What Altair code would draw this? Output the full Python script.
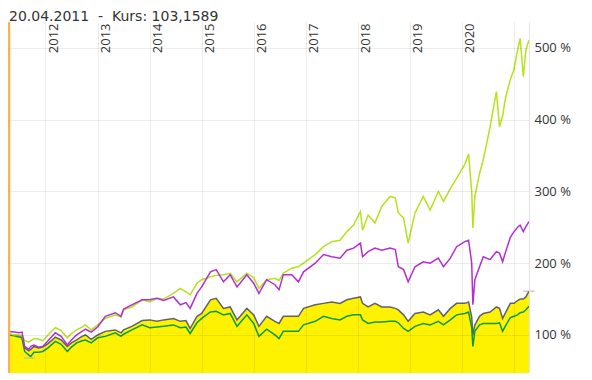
import altair as alt
import pandas as pd

# ---- data (percent of start value) ----
dates = [
    "2011-04-20", "2011-05-26", "2011-07-01", "2011-07-20", "2011-08-08", "2011-09-06",
    "2011-09-20", "2011-10-12", "2011-11-14", "2011-12-13", "2012-01-19", "2012-03-10",
    "2012-04-20", "2012-06-02", "2012-07-01", "2012-08-07", "2012-09-13", "2012-10-08",
    "2012-11-17", "2013-01-01", "2013-02-24", "2013-05-05", "2013-06-14", "2013-07-02",
    "2013-08-29", "2013-11-10", "2014-01-01", "2014-02-21", "2014-04-09", "2014-06-17",
    "2014-08-04", "2014-09-13", "2014-10-12", "2014-11-29", "2015-01-01", "2015-03-04",
    "2015-04-13", "2015-06-03", "2015-07-20", "2015-09-06", "2015-11-14", "2016-01-01",
    "2016-02-07", "2016-04-01", "2016-05-29", "2016-06-27", "2016-07-27", "2016-09-24",
    "2016-11-10", "2016-12-16", "2017-03-08", "2017-05-05", "2017-07-02", "2017-08-29",
    "2017-10-16", "2017-12-02", "2018-01-19", "2018-02-03", "2018-03-14", "2018-05-01",
    "2018-06-18", "2018-08-15", "2018-09-21", "2018-10-12", "2018-11-18", "2018-12-20",
    "2019-02-06", "2019-04-05", "2019-05-23", "2019-07-20", "2019-08-25", "2019-10-12",
    "2019-11-25", "2020-01-22", "2020-02-17", "2020-03-10", "2020-03-18", "2020-04-01",
    "2020-05-04", "2020-05-30", "2020-07-17", "2020-08-30", "2020-09-21", "2020-10-13",
    "2020-10-31", "2020-12-06", "2021-01-01", "2021-01-26", "2021-02-13", "2021-03-07",
    "2021-03-25", "2021-04-16",
]
lime = [
    102, 100, 100, 99, 92, 90, 92, 95, 94, 92, 100, 110,
    106, 96, 102, 107, 111, 114, 107, 114, 123, 128, 125, 135,
    139, 149, 146, 151, 150, 158, 165, 160, 156, 172, 177, 181,
    183, 184, 186, 174, 186, 180, 165, 177, 179, 176, 186, 193,
    195, 200, 212, 223, 230, 232, 244, 253, 272, 246, 267, 256,
    279, 293, 291, 270, 263, 228, 270, 293, 274, 300, 286, 304,
    318, 338, 352, 300, 249, 293, 325, 344, 390, 439, 390, 405,
    428, 456, 470, 497, 513, 460, 497, 511,
]
magenta = [
    105, 104, 103, 104, 84, 80, 84, 86, 83, 84, 92, 103,
    98, 86, 93, 100, 105, 108, 104, 111, 126, 131, 126, 136,
    142, 149, 149, 151, 148, 153, 142, 145, 137, 158, 167, 188,
    191, 174, 184, 167, 184, 172, 158, 177, 170, 163, 184, 184,
    174, 188, 200, 212, 209, 207, 218, 221, 228, 209, 216, 221,
    218, 221, 219, 195, 191, 174, 195, 202, 200, 207, 195, 207,
    223, 230, 232, 200, 142, 177, 195, 209, 205, 216, 214, 202,
    214, 236, 244, 250, 253, 244, 251, 258,
]
grey = [
    101, 100, 99, 98, 82, 78, 80, 84, 82, 83, 88, 97,
    93, 84, 89, 93, 98, 100, 94, 100, 105, 107, 103, 107,
    112, 120, 121, 119, 121, 123, 119, 120, 109, 126, 130, 149,
    151, 137, 139, 121, 137, 128, 112, 126, 119, 116, 126, 126,
    126, 137, 142, 144, 146, 144, 149, 151, 153, 144, 139, 144,
    139, 139, 137, 135, 128, 119, 130, 132, 128, 135, 126, 137,
    144, 144, 146, 125, 100, 114, 126, 130, 132, 139, 137, 123,
    130, 144, 144, 148, 150, 150, 153, 161,
]
green = [
    100, 99, 97, 96, 77, 72, 70, 76, 76, 77, 82, 91,
    87, 77, 83, 89, 92, 93, 89, 96, 98, 103, 98, 101,
    107, 114, 110, 111, 112, 114, 110, 111, 102, 117, 123, 132,
    133, 128, 130, 112, 128, 116, 98, 108, 100, 95, 105, 105,
    105, 114, 119, 126, 123, 121, 126, 128, 128, 121, 116, 118,
    118, 119, 119, 117, 109, 105, 112, 116, 114, 119, 114, 121,
    128, 130, 132, 110, 84, 105, 114, 116, 116, 116, 117, 105,
    112, 124, 126, 128, 131, 132, 135, 140,
]

# small markers (current value of the grey series, low mark of 2011)
marker_dates = ["2021-04-16", "2011-09-12"]
marker_values = [161, 68]
marker_colors = ["#9e9e9e", "#a9a6d8"]

x_ticks = [2012, 2013, 2014, 2015, 2016, 2017, 2018, 2019, 2020, 2021]
y_ticks = [100, 200, 300, 400, 500]
y_domain = [47, 536]

title_text = "20.04.2011 \u00a0-\u00a0 Kurs: 103,1589"

df = pd.DataFrame({"date": dates, "lime": lime, "magenta": magenta,
                   "grey": grey, "green": green})
mk = pd.DataFrame({"date": marker_dates, "value": marker_values, "c": marker_colors})
start = pd.DataFrame({"date": [dates[0]]})

xscale = alt.Scale(domain=[alt.DateTime(year=2011, month=4, date=20),
                           alt.DateTime(year=2021, month=4, date=16)], nice=False)
yscale = alt.Scale(domain=y_domain, nice=False, zero=False)

xaxis = alt.Axis(
    orient="top", values=[alt.DateTime(year=y, month=1, date=1) for y in x_ticks],
    labelExpr="year(datum.value) > 2020 ? '' : timeFormat(datum.value, '%Y')",
    labelAngle=270, labelAlign="right", labelBaseline="top",
    labelPadding=-1, labelOffset=2, ticks=False, domain=False,
    labelFont="Open Sans", labelFontSize=13, labelColor="#333333",
    labelOverlap=False, labelFlush=False,
    grid=True, gridColor="#000000", gridOpacity=0.075, zindex=1, title=None,
)
yaxis = alt.Axis(
    orient="right", values=y_ticks, labelExpr="datum.value + ' %'",
    labelFont="Open Sans", labelFontSize=13, labelColor="#333333",
    labelPadding=5, ticks=False, domain=True, domainColor="#e3e3e3",
    grid=True, gridColor="#000000", gridOpacity=0.075, zindex=1, title=None,
)

X = alt.X("date:T", scale=xscale, axis=xaxis)

area = alt.Chart(df).mark_area(color="#fff200", clip=True).encode(
    x=X, y=alt.Y("grey:Q", scale=yscale, axis=yaxis), y2=alt.datum(y_domain[0]))


def line(field, color):
    return alt.Chart(df).mark_line(color=color, strokeWidth=1.5, clip=True).encode(
        x=X, y=alt.Y(f"{field}:Q", scale=yscale, axis=yaxis))


rule = alt.Chart(start).mark_rule(color="#fbb24e", strokeWidth=2.5).encode(x=X)

ticks = alt.Chart(mk).mark_tick(orient="horizontal", size=11, thickness=1.2).encode(
    x=X, y=alt.Y("value:Q", scale=yscale, axis=yaxis),
    color=alt.Color("c:N", scale=None))

chart = alt.layer(
    area,
    line("grey", "#5f6368"),
    line("green", "#0a9b3a"),
    line("lime", "#b5e31b"),
    line("magenta", "#b42fd3"),
    ticks,
    rule,
).properties(
    width=520, height=351,
    title=alt.TitleParams(text=title_text, anchor="start", frame="group",
                          orient="top", offset=4, dy=18, baseline="alphabetic",
                          font="DejaVu Sans", fontSize=14, fontWeight="normal",
                          color="#333333"),
    autosize=alt.AutoSizeParams(type="none"),
    padding={"left": 1, "top": 14, "right": 55, "bottom": 0},
).configure_view(stroke=None)

chart.save("out.html", embed_options={"renderer": "svg", "actions": False})
